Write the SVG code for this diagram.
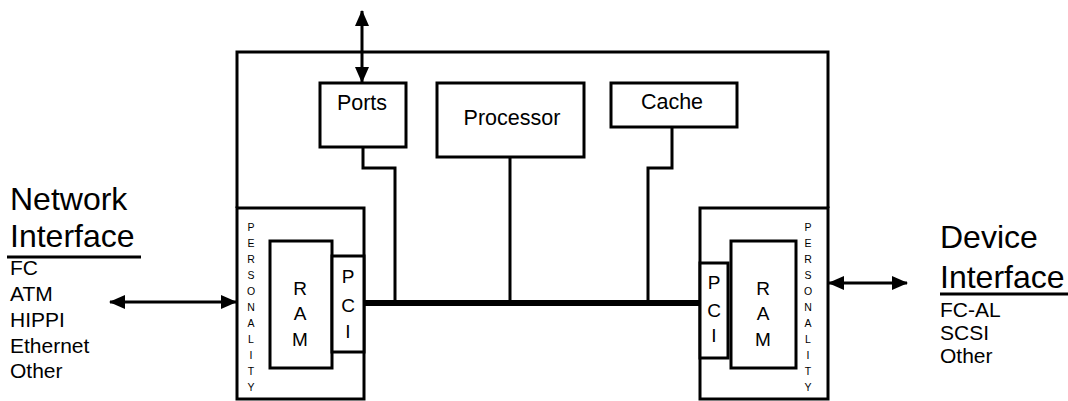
<svg xmlns="http://www.w3.org/2000/svg" width="1068" height="401" viewBox="0 0 1068 401">
<style>
.box{fill:#fff;stroke:#000;stroke-width:3}
.ln{fill:none;stroke:#000;stroke-width:3}
.bus{fill:none;stroke:#000;stroke-width:6}
text{font-family:"Liberation Sans",Arial,sans-serif;fill:#000}
.lbl{font-size:21.5px;text-anchor:middle}
.big{font-size:32px}
.sm{font-size:21px}
.ltr{font-size:19px;text-anchor:middle}
.tiny{font-size:10.5px;text-anchor:middle}
</style>
<defs>
<marker id="ah" viewBox="0 0 16 14" refX="15" refY="7" markerWidth="16" markerHeight="14" markerUnits="userSpaceOnUse" orient="auto-start-reverse">
<path d="M0,0 L16,7 L0,14 Z" fill="#000"/>
</marker>
</defs>
<g id="frame">
<path class="ln" d="M237,208 V52 H828 V208"/>
</g>
<g id="ports"><rect class="box" x="320" y="83" width="86" height="64"/><text class="lbl" x="362" y="110">Ports</text></g>
<g id="processor"><rect class="box" x="437" y="83" width="147" height="74"/><text class="lbl" x="512" y="125">Processor</text></g>
<g id="cache"><rect class="box" x="611" y="83" width="126" height="44"/><text class="lbl" x="672" y="109">Cache</text></g>
<g id="left-personality">
<rect class="box" x="237" y="208" width="127" height="191"/>
<g class="tiny">
<text x="251" y="231">P</text><text x="251" y="247">E</text><text x="251" y="263">R</text><text x="251" y="279">S</text><text x="251" y="295">O</text><text x="251" y="311">N</text><text x="251" y="327">A</text><text x="251" y="343">L</text><text x="251" y="359">I</text><text x="251" y="375">T</text><text x="251" y="391">Y</text>
</g>
</g>
<g id="left-ram"><rect class="box" x="270" y="241" width="62" height="127"/>
<text class="ltr" x="300" y="295">R</text><text class="ltr" x="300" y="320">A</text><text class="ltr" x="300" y="346">M</text></g>
<g id="left-pci"><rect class="box" x="332" y="256" width="32" height="96"/>
<text class="ltr" x="348" y="283">P</text><text class="ltr" x="348" y="312">C</text><text class="ltr" x="348" y="338">I</text></g>
<g id="right-personality">
<rect class="box" x="700" y="208" width="128" height="191"/>
<g class="tiny">
<text x="808" y="231">P</text><text x="808" y="247">E</text><text x="808" y="263">R</text><text x="808" y="279">S</text><text x="808" y="295">O</text><text x="808" y="311">N</text><text x="808" y="327">A</text><text x="808" y="343">L</text><text x="808" y="359">I</text><text x="808" y="375">T</text><text x="808" y="391">Y</text>
</g>
</g>
<g id="right-pci"><rect class="box" x="700" y="263" width="28" height="95"/>
<text class="ltr" x="714" y="289">P</text><text class="ltr" x="714" y="317">C</text><text class="ltr" x="714" y="342">I</text></g>
<g id="right-ram"><rect class="box" x="731" y="241" width="65" height="127"/>
<text class="ltr" x="763" y="295">R</text><text class="ltr" x="763" y="320">A</text><text class="ltr" x="763" y="346">M</text></g>
<g id="network-interface">
<text class="big" x="10" y="210">Network</text>
<text class="big" x="10" y="247">Interface</text>
<line class="ln" x1="7" y1="257" x2="141" y2="257"/>
<g class="sm"><text x="10" y="275">FC</text><text x="10" y="301">ATM</text><text x="10" y="327">HIPPI</text><text x="10" y="353">Ethernet</text><text x="10" y="378">Other</text></g>
</g>
<g id="device-interface">
<text class="big" x="940" y="248">Device</text>
<text class="big" x="940" y="288">Interface</text>
<line class="ln" x1="940" y1="294" x2="1068" y2="294"/>
<g class="sm"><text x="940" y="317">FC-AL</text><text x="940" y="340">SCSI</text><text x="940" y="363">Other</text></g>
</g>
<g id="connectors">
<line class="bus" x1="363" y1="303" x2="701" y2="303"/>
<path class="ln" d="M363,147 V168 H395 V303"/>
<path class="ln" d="M510,157 V303"/>
<path class="ln" d="M672,127 V168 H648 V303"/>
<line class="ln" x1="362" y1="11" x2="362" y2="82" marker-start="url(#ah)" marker-end="url(#ah)"/>
<line class="ln" x1="110" y1="302" x2="236" y2="302" marker-start="url(#ah)" marker-end="url(#ah)"/>
<line class="ln" x1="829" y1="283" x2="907" y2="283" marker-start="url(#ah)" marker-end="url(#ah)"/>
</g>
</svg>
